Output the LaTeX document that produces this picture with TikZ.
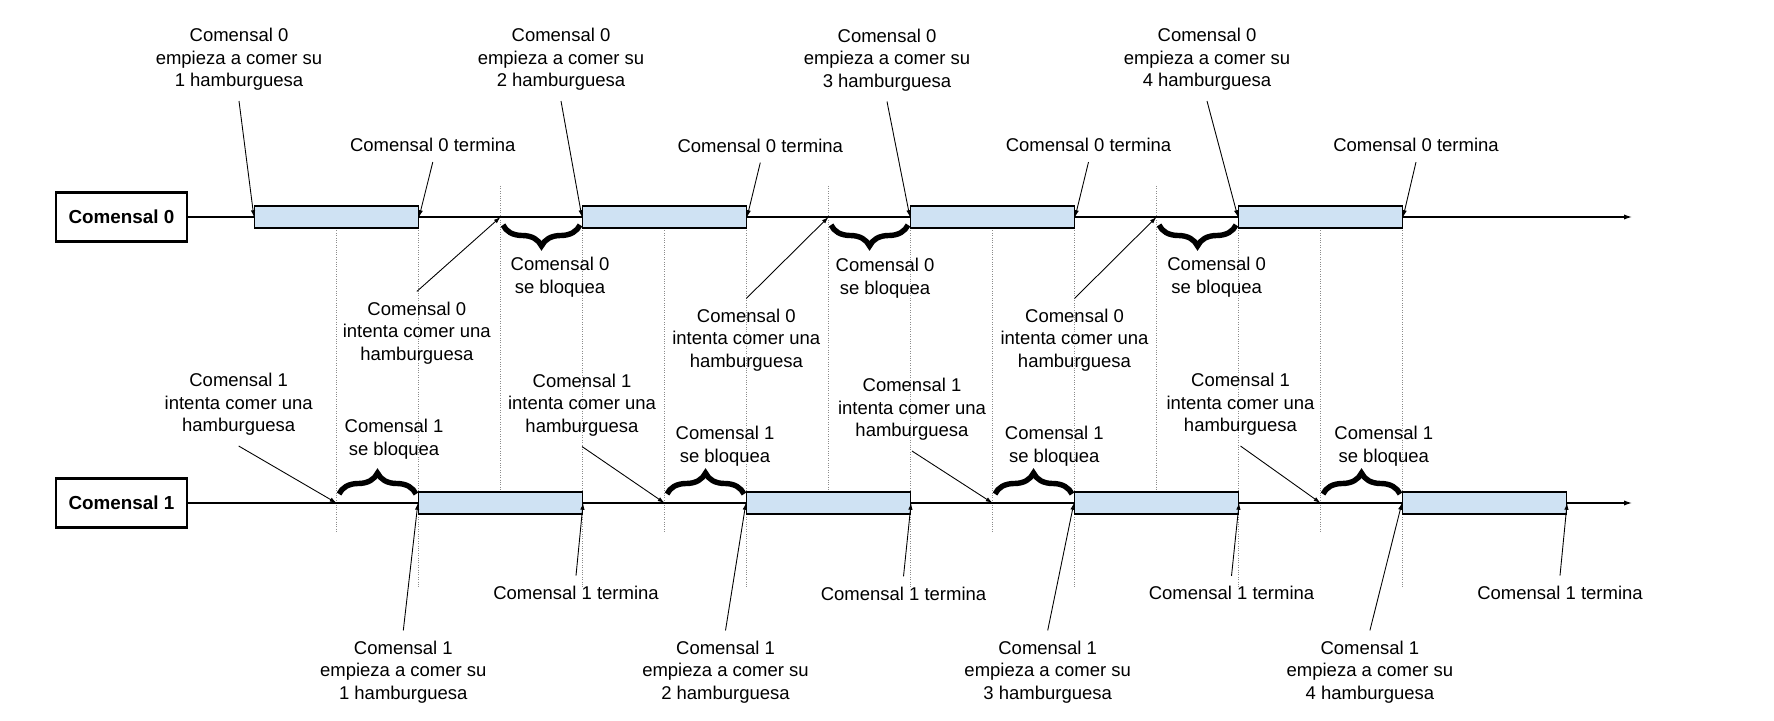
\documentclass[tikz,border=0pt]{standalone}
\usepackage{fontspec}
\setmainfont{Liberation Sans}
\usepackage{xcolor}
\usepackage{tikz}
\usetikzlibrary{arrows.meta,decorations.pathreplacing}

\definecolor{barblue}{HTML}{CFE2F3}
\definecolor{guidegray}{HTML}{8C8C8C}

\begin{document}
\begin{tikzpicture}[
    x=0.25mm, y=-0.25mm,
    every node/.style={font=\fontsize{13.15}{16.1}\selectfont},
    who/.style={draw, line width=0.6mm, minimum width=32.6mm, minimum height=12.2mm, inner sep=0pt, font=\fontsize{13.4}{16.1}\selectfont\bfseries},
    bar/.style={draw, fill=barblue, line width=0.3mm, minimum width=41mm, minimum height=5.5mm, inner sep=0pt},
    lbl/.style={align=center, inner sep=2.5mm},
    arr/.style={-{Latex[length=1.7mm, width=1.1mm]}, line width=0.22mm},
    axis/.style={-{Latex[length=2mm, width=1.3mm]}, line width=0.3mm},
    dots/.style={densely dotted, draw=guidegray, line width=0.25mm},
    blk/.style={decorate, decoration={brace, amplitude=5.25mm}, line width=1.35mm},
]
    \useasboundingbox (0,0) rectangle (1774,721);

    % guide lines
    \draw[dots] (336.5,228) -- (336.5,533);
    \draw[dots] (418.5,228) -- (418.5,588);
    \draw[dots] (500.5,186) -- (500.5,492);
    \draw[dots] (582.5,228) -- (582.5,588);
    \draw[dots] (664.5,228) -- (664.5,533);
    \draw[dots] (746.5,228) -- (746.5,588);
    \draw[dots] (828.5,186) -- (828.5,492);
    \draw[dots] (910.5,228) -- (910.5,588);
    \draw[dots] (992.5,228) -- (992.5,533);
    \draw[dots] (1074.5,228) -- (1074.5,588);
    \draw[dots] (1156.5,186) -- (1156.5,492);
    \draw[dots] (1238.5,228) -- (1238.5,588);
    \draw[dots] (1320.5,228) -- (1320.5,533);
    \draw[dots] (1402.5,228) -- (1402.5,588);

    % diners and timelines
    \node[who] (com0) at (121.5,217) {Comensal 0};
    \node[who] (com1) at (121.5,503) {Comensal 1};
    \coordinate (end0) at (1632,217);
    \coordinate (end1) at (1632,503);
    \draw[axis] (com0.east) -- (end0);
    \draw[axis] (com1.east) -- (end1);

    % eating periods
    \node[bar] (c0b1) at (336.5,217) {};
    \node[bar] (c0b2) at (664.5,217) {};
    \node[bar] (c0b3) at (992.5,217) {};
    \node[bar] (c0b4) at (1320.5,217) {};
    \node[bar] (c1b1) at (500.5,503) {};
    \node[bar] (c1b2) at (828.5,503) {};
    \node[bar] (c1b3) at (1156.5,503) {};
    \node[bar] (c1b4) at (1484.5,503) {};

    % attempts
    \coordinate (c0w1) at (500.5,217);
    \coordinate (c0w2) at (828.5,217);
    \coordinate (c0w3) at (1156.5,217);
    \coordinate (c1w1) at (336.5,503);
    \coordinate (c1w2) at (664.5,503);
    \coordinate (c1w3) at (992.5,503);
    \coordinate (c1w4) at (1320.5,503);

    % blocked
    \draw[blk] (580,225) -- (503,225);
    \draw[blk] (908,225) -- (831,225);
    \draw[blk] (1236,225) -- (1159,225);
    \draw[blk] (339,494) -- (416,494);
    \draw[blk] (667,494) -- (744,494);
    \draw[blk] (995,494) -- (1072,494);
    \draw[blk] (1323,494) -- (1400,494);

    % Comensal 0 labels
    \node[lbl] (c0e1) at (239,59.5)  {Comensal 0\\empieza a comer su\\1 hamburguesa};
    \node[lbl] (c0e2) at (561,59.5)  {Comensal 0\\empieza a comer su\\2 hamburguesa};
    \node[lbl] (c0e3) at (887,60)    {Comensal 0\\empieza a comer su\\3 hamburguesa};
    \node[lbl] (c0e4) at (1207,59.5) {Comensal 0\\empieza a comer su\\4 hamburguesa};
    \node[lbl] (c0t1) at (432.8,145)  {Comensal 0 termina};
    \node[lbl] (c0t2) at (760.3,145.5) {Comensal 0 termina};
    \node[lbl] (c0t3) at (1088.5,145) {Comensal 0 termina};
    \node[lbl] (c0t4) at (1416,145)   {Comensal 0 termina};
    \node[lbl] (c0i1) at (416.8,333)  {Comensal 0\\intenta comer una\\hamburguesa};
    \node[lbl] (c0i2) at (746.3,340)  {Comensal 0\\intenta comer una\\hamburguesa};
    \node[lbl] (c0i3) at (1074.5,340) {Comensal 0\\intenta comer una\\hamburguesa};
    \node[lbl] (c0s1) at (560,277)    {Comensal 0\\se bloquea};
    \node[lbl] (c0s2) at (885,278.5)  {Comensal 0\\se bloquea};
    \node[lbl] (c0s3) at (1216.7,277) {Comensal 0\\se bloquea};

    % Comensal 1 labels
    \node[lbl] (c1i1) at (238.7,404.5) {Comensal 1\\intenta comer una\\hamburguesa};
    \node[lbl] (c1i2) at (582,405)     {Comensal 1\\intenta comer una\\hamburguesa};
    \node[lbl] (c1i3) at (912,409.5)   {Comensal 1\\intenta comer una\\hamburguesa};
    \node[lbl] (c1i4) at (1240.5,404.5) {Comensal 1\\intenta comer una\\hamburguesa};
    \node[lbl] (c1s1) at (394,439)     {Comensal 1\\se bloquea};
    \node[lbl] (c1s2) at (725,446.5)   {Comensal 1\\se bloquea};
    \node[lbl] (c1s3) at (1054.3,446.5) {Comensal 1\\se bloquea};
    \node[lbl] (c1s4) at (1383.8,446)  {Comensal 1\\se bloquea};
    \node[lbl] (c1e1) at (403.3,672)   {Comensal 1\\empieza a comer su\\1 hamburguesa};
    \node[lbl] (c1e2) at (725.5,672)   {Comensal 1\\empieza a comer su\\2 hamburguesa};
    \node[lbl] (c1e3) at (1047.7,672)  {Comensal 1\\empieza a comer su\\3 hamburguesa};
    \node[lbl] (c1e4) at (1369.9,672)  {Comensal 1\\empieza a comer su\\4 hamburguesa};
    \node[lbl] (c1t1) at (576,592.7)   {Comensal 1 termina};
    \node[lbl] (c1t2) at (903.5,593.5) {Comensal 1 termina};
    \node[lbl] (c1t3) at (1231.5,593)  {Comensal 1 termina};
    \node[lbl] (c1t4) at (1560,592.7)  {Comensal 1 termina};

    % pointers
    \draw[arr] (c0e1.south) -- (c0b1.west);
    \draw[arr] (c0e2.south) -- (c0b2.west);
    \draw[arr] (c0e3.south) -- (c0b3.west);
    \draw[arr] (c0e4.south) -- (c0b4.west);
    \draw[arr] (c0t1.south) -- (c0b1.east);
    \draw[arr] (c0t2.south) -- (c0b2.east);
    \draw[arr] (c0t3.south) -- (c0b3.east);
    \draw[arr] (c0t4.south) -- (c0b4.east);
    \draw[arr] (c0i1.north) -- (c0w1);
    \draw[arr] (c0i2.north) -- (c0w2);
    \draw[arr] (c0i3.north) -- (c0w3);
    \draw[arr] (c1i1.south) -- (c1w1);
    \draw[arr] (c1i2.south) -- (c1w2);
    \draw[arr] (c1i3.south) -- (c1w3);
    \draw[arr] (c1i4.south) -- (c1w4);
    \draw[arr] (c1e1.north) -- (c1b1.west);
    \draw[arr] (c1e2.north) -- (c1b2.west);
    \draw[arr] (c1e3.north) -- (c1b3.west);
    \draw[arr] (c1e4.north) -- (c1b4.west);
    \draw[arr] (c1t1.north) -- (c1b1.east);
    \draw[arr] (c1t2.north) -- (c1b2.east);
    \draw[arr] (c1t3.north) -- (c1b3.east);
    \draw[arr] (c1t4.north) -- (c1b4.east);
\end{tikzpicture}
\end{document}
